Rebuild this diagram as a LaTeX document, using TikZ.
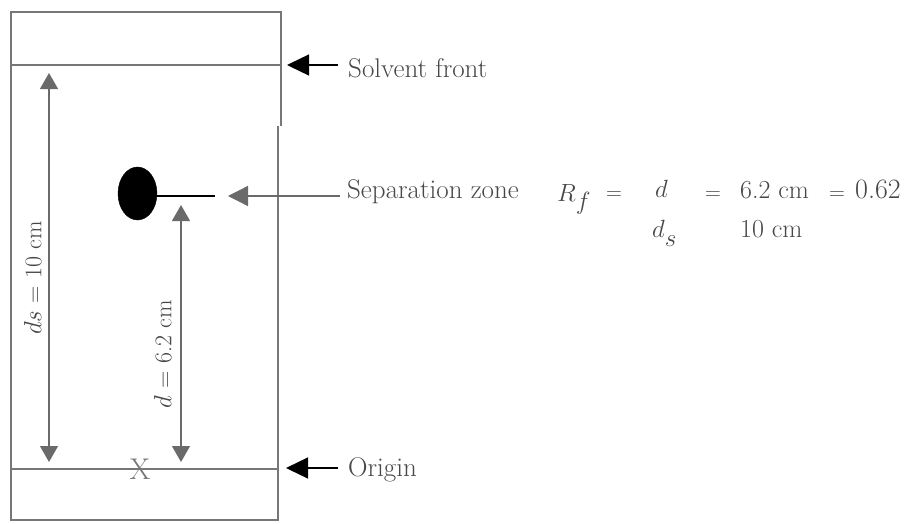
\documentclass[tikz,border=0pt]{standalone}
\usetikzlibrary{arrows.meta,shapes.geometric}
\definecolor{plate}{HTML}{777777}
\definecolor{txt}{HTML}{474747}
\definecolor{garr}{HTML}{6A6A6A}
\begin{document}
\begin{tikzpicture}[x=1pt,y=-1pt,
  wall/.style={draw=plate,line width=2.2pt},
  dimarrow/.style={draw=garr,line width=1.3pt,{Triangle[length=16pt,width=18pt]}-{Triangle[length=16pt,width=18pt]}},
  grayptr/.style={draw=garr,line width=1.3pt,-{Triangle[length=20pt,width=20pt]}},
  blackptr/.style={draw=black,line width=1.3pt,-{Triangle[length=22pt,width=21pt]}},
  lbl/.style={text=txt,inner sep=0pt,font=\fontsize{27}{30}\selectfont},
  dimlbl/.style={text=txt,inner sep=0pt,font=\fontsize{24}{27}\selectfont},
  frm/.style={text=txt,inner sep=0pt,font=\fontsize{26}{30}\selectfont},
  eqs/.style={text=txt,inner sep=0pt,font=\fontsize{22}{24}\selectfont,anchor=base},
]
\useasboundingbox (0,0) rectangle (911,523);
% plate
\coordinate (pTL) at (11,12);
\coordinate (pTR) at (281,12);
\coordinate (pBrk1) at (281,126);
\coordinate (pBrk2) at (278,126);
\coordinate (pBR) at (278,520);
\coordinate (pBL) at (11,520);
\draw[wall] (pBrk1) -- (pTR) -- (pTL) -- (pBL) -- (pBR) -- (pBrk2);
\coordinate (sfL) at (11,65);
\coordinate (sfR) at (281,65);
\draw[wall] (sfL) -- (sfR);
\coordinate (orL) at (11,469);
\coordinate (orR) at (278,469);
\draw[wall] (orL) -- (orR);
% spot
\node[draw=black,fill=black,ellipse,minimum width=39pt,minimum height=53pt,inner sep=0pt] (spot) at (137.5,193.5) {};
\coordinate (spotE) at (215,196);
\draw[black,line width=1.5pt] (spot.east |- spotE) -- (spotE);
% dimension arrows
\coordinate (dsT) at (49,73);
\coordinate (dsB) at (49,462);
\draw[dimarrow] (dsT) -- (dsB);
\coordinate (dT) at (181,205);
\coordinate (dB) at (181,462);
\draw[dimarrow] (dT) -- (dB);
\node[dimlbl,rotate=90] (dslbl) at (33,278) {$ds$ = 10 cm};
\node[dimlbl,rotate=90] (dlbl) at (163,354) {$d$ = 6.2 cm};
\node[text=plate,inner sep=0pt,font=\fontsize{30}{32}\selectfont] (xmark) at (140,469) {X};
% labels on the right
\node[lbl,anchor=base west] (solv) at (348,77) {Solvent front};
\node[lbl,anchor=base west] (sep) at (347,198) {Separation zone};
\node[lbl,anchor=base west] (orig) at (348,476) {Origin};
\coordinate (solvTip) at (287,65);
\coordinate (sepTip) at (228,196);
\coordinate (origTip) at (286,468);
\draw[blackptr] (solv.west |- solvTip) ++(-10,0) coordinate (solvS) -- (solvTip);
\draw[grayptr] (sep.west |- sepTip) ++(-7,0) coordinate (sepS) -- (sepTip);
\draw[blackptr] (orig.west |- origTip) ++(-10,0) coordinate (origS) -- (origTip);
% formula
\node[frm,anchor=base west] (rf) at (557,201) {$R$\raisebox{-8pt}{$f$}};
\node[eqs] (eq1) at (614,199) {=};
\node[frm,anchor=base west] (num) at (655,197) {$d$};
\node[frm,anchor=base west] (den) at (652,237) {$d$\raisebox{-9pt}{$s$}};
\node[eqs] (eq2) at (713,199) {=};
\node[frm,anchor=base west] (num2) at (740,198) {6.2 cm};
\node[frm,anchor=base west] (den2) at (740,237) {10 cm};
\node[eqs] (eq3) at (837,199) {=};
\node[frm,anchor=base west,font=\fontsize{28}{30}\selectfont] (res) at (855,198) {0.62};
\end{tikzpicture}
\end{document}
